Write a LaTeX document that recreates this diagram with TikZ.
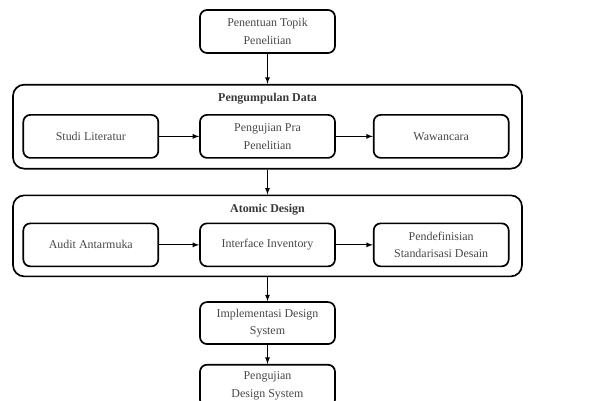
\documentclass[tikz,border=0pt]{standalone}
\usepackage{fontspec}
\setmainfont{Liberation Serif}
\usepackage{tikz}
\usetikzlibrary{positioning}

\begin{document}
\begin{tikzpicture}[node distance=0.75cm and 1.0cm]
    \tikzstyle{stepbox} = [rectangle, rounded corners=5pt, minimum width=3.375cm, minimum height=1.075cm, align=center, draw=black, line width=1.2pt, text=black!72, font=\fontsize{8.5}{12.5}\selectfont]
    \tikzstyle{group} = [rectangle, rounded corners=8pt, minimum width=12.725cm, draw=black, line width=1.2pt]
    \tikzstyle{grouptitle} = [text=black!78, font=\fontsize{8.5}{12.5}\selectfont\bfseries]
    \tikzstyle{arrow} = [->, >=latex, line width=0.6pt]

    \useasboundingbox (-6.6875,0.7875) rectangle (8.0625,-9.2375);

    % Nodes
    \node (p_topik) [stepbox] {Penentuan Topik\\Penelitian};
    \node (p_data) [group, minimum height=2.1cm, below=0.75cm of p_topik] {};
    \node (p_data_title) [grouptitle] at ([yshift=-0.375cm]p_data.north) {Pengumpulan Data};
    \node (p_pra) [stepbox, above=0.27cm of p_data.south] {Pengujian Pra\\Penelitian};
    \node (p_studi) [stepbox, left=1.0cm of p_pra] {Studi Literatur};
    \node (p_wawancara) [stepbox, right=0.925cm of p_pra] {Wawancara};

    \node (p_atomic) [group, minimum height=2.025cm, below=0.625cm of p_data] {};
    \node (p_atomic_title) [grouptitle] at ([yshift=-0.375cm]p_atomic.north) {Atomic Design};
    \node (p_inventory) [stepbox, above=0.25cm of p_atomic.south] {Interface Inventory};
    \node (p_audit) [stepbox, left=1.0cm of p_inventory] {Audit Antarmuka};
    \node (p_standar) [stepbox, right=0.925cm of p_inventory] {Pendefinisian\\Standarisasi Desain};

    \node (p_implementasi) [stepbox, minimum height=1.05cm, below=0.6cm of p_atomic] {Implementasi Design\\System};
    \node (p_pengujian) [stepbox, minimum height=1.05cm, below=0.475cm of p_implementasi] {Pengujian\\Design System};

    % Arrows
    \draw [arrow] (p_topik) -- (p_data);
    \draw [arrow] (p_studi) -- (p_pra);
    \draw [arrow] (p_pra) -- (p_wawancara);
    \draw [arrow] (p_data) -- (p_atomic);
    \draw [arrow] (p_audit) -- (p_inventory);
    \draw [arrow] (p_inventory) -- (p_standar);
    \draw [arrow] (p_atomic) -- (p_implementasi);
    \draw [arrow] (p_implementasi) -- (p_pengujian);
\end{tikzpicture}
\end{document}
